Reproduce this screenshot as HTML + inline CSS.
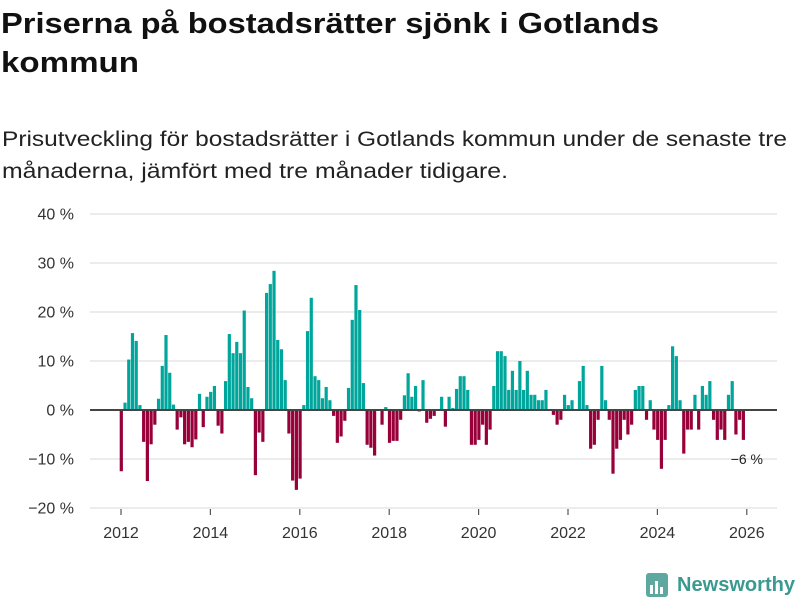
<!DOCTYPE html>
<html><head><meta charset="utf-8"><style>
html,body{margin:0;padding:0;background:#fff;width:800px;height:600px;overflow:hidden}
svg{display:block;font-family:"Liberation Sans",sans-serif}
</style></head><body>
<svg id="chart" width="800" height="600" viewBox="0 0 800 600">
<text x="1" y="33" font-size="29" font-weight="bold" fill="#111" textLength="658" lengthAdjust="spacingAndGlyphs">Priserna på bostadsrätter sjönk i Gotlands</text>
<text x="1" y="72" font-size="29" font-weight="bold" fill="#111" textLength="138" lengthAdjust="spacingAndGlyphs">kommun</text>
<text x="2" y="146" font-size="21" fill="#222" textLength="785" lengthAdjust="spacingAndGlyphs">Prisutveckling för bostadsrätter i Gotlands kommun under de senaste tre</text>
<text x="2" y="178" font-size="21" fill="#222" textLength="506" lengthAdjust="spacingAndGlyphs">månaderna, jämfört med tre månader tidigare.</text>
<g id="grid"></g>
<g id="bars"></g>
<g id="xaxis"></g>
<line x1="90" x2="777" y1="410" y2="410" stroke="#444" stroke-width="2"/>
<text x="763" y="464" font-size="14" fill="#222" text-anchor="end">−6 %</text>
<g>
<rect x="646" y="573" width="22" height="24" rx="3" fill="#5fa8a0"/>
<rect x="650" y="585" width="3" height="9" fill="#fff"/><rect x="655" y="581" width="3" height="13" fill="#fff"/><rect x="660" y="587" width="3" height="7" fill="#fff"/>
<text x="677" y="591" font-size="20" font-weight="bold" fill="#3a9a8f" textLength="118" lengthAdjust="spacingAndGlyphs">Newsworthy</text>
</g>
</svg>
<script>
const yTicks=[40,30,20,10,0,-10,-20];
const yTickLabels=["40 %","30 %","20 %","10 %","0 %","−10 %","−20 %"];
const xYears=[2012,2014,2016,2018,2020,2022,2024,2026];
const startYear=2012;
const values=[
-12.5,1.5,10.3,15.7,14.1,1,-6.5,-14.5,-7,-3,2.3,9,
15.3,7.6,1.1,-4,-1.5,-7,-6.5,-7.6,-6,3.3,-3.5,2.7,
3.7,4.9,-3.2,-4.8,5.9,15.5,11.6,13.9,11.6,20.3,4.7,2.4,
-13.3,-4.6,-6.5,23.9,25.7,28.4,14.3,12.4,6.1,-4.8,-14.4,-16.3,
-14,1,16.1,22.9,6.9,6.1,2.4,4.7,2,-1.2,-6.7,-5.4,
-2.2,4.5,18.4,25.5,20.4,5.5,-7.1,-7.7,-9.3,0,-3,0.6,
-6.7,-6.3,-6.3,-2,3,7.5,2.7,4.9,-0.3,6.1,-2.6,-1.8,
-1.2,0,2.7,-3.4,2.7,0.4,4.3,6.9,6.9,4.1,-7.1,-7.1,
-6.1,-3,-7.1,-4,4.9,12,12,11,4.1,8,4.1,10,
4.1,8,3.1,3.1,2,2,4.1,0,-1,-3,-2,3.1,
1,2,0,5.9,9,1,-7.9,-7.1,-2,9,2,-2,
-13,-7.9,-6.1,-2,-5,-3,4.1,4.9,4.9,-2,2,-4,
-6.1,-12,-6.1,1,13,11,2,-8.9,-4,-4,3.1,-4,
4.9,3.1,5.9,-2,-6.1,-4,-6.1,3.1,5.9,-5,-2,-6.1];
const NS="http://www.w3.org/2000/svg";
const x0=121,pxPerYear=44.7,y0=410,pxPerPct=4.9;
function xScale(t){return x0+(t-startYear)*pxPerYear;}
function yScale(v){return y0-v*pxPerPct;}
const grid=document.getElementById('grid');
yTicks.forEach((t,i)=>{
 const l=document.createElementNS(NS,'line');
 l.setAttribute('x1',90);l.setAttribute('x2',777);
 l.setAttribute('y1',yScale(t));l.setAttribute('y2',yScale(t));
 l.setAttribute('stroke','#e0e0e0');l.setAttribute('stroke-width','1.3');
 
 
 grid.appendChild(l);
 const tx=document.createElementNS(NS,'text');
 tx.setAttribute('x',74);tx.setAttribute('y',yScale(t)+5.5);
 tx.setAttribute('text-anchor','end');tx.setAttribute('font-size','16');tx.setAttribute('fill','#333');
 tx.textContent=yTickLabels[i];
 
 
 grid.appendChild(tx);
});
const xa=document.getElementById('xaxis');
xYears.forEach(yr=>{
 const x=xScale(yr);
 const l=document.createElementNS(NS,'line');
 l.setAttribute('x1',x);l.setAttribute('x2',x);l.setAttribute('y1',509);l.setAttribute('y2',515);
 l.setAttribute('stroke','#555');l.setAttribute('stroke-width','1.2');
 
 
 xa.appendChild(l);
 const tx=document.createElementNS(NS,'text');
 tx.setAttribute('x',x);tx.setAttribute('y',538);tx.setAttribute('text-anchor','middle');
 tx.setAttribute('font-size','16');tx.setAttribute('fill','#333');tx.textContent=yr;
 
 
 xa.appendChild(tx);
});
const bars=document.getElementById('bars');
values.forEach((v,i)=>{
 const cx=xScale(startYear+i/12)+0.3;
 const r=document.createElementNS(NS,'rect');
 const y=Math.min(yScale(v),y0),h=Math.abs(yScale(v)-y0);
 r.setAttribute('x',cx-1.6);r.setAttribute('width',3.2);
 r.setAttribute('y',y);r.setAttribute('height',h);
 r.setAttribute('fill',v>=0?'#00a69b':'#98003a');
 
 
 bars.appendChild(r);
});
</script>
</body></html>
